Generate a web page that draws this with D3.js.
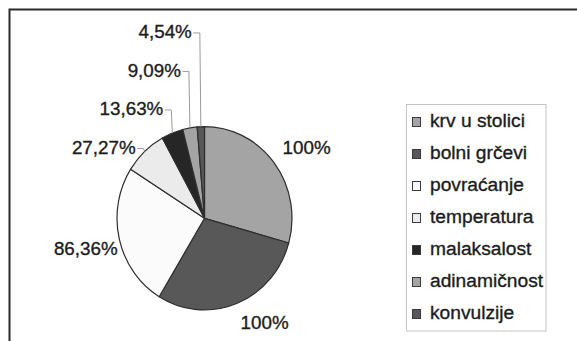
<!DOCTYPE html>
<html>
<head>
<meta charset="utf-8">
<script src="https://cdn.jsdelivr.net/npm/d3@7"></script>
<style>
  html, body { margin: 0; padding: 0; background: #fff; }
  svg { display: block; }
  text { font-family: "Liberation Sans", Arial, sans-serif; fill: #1c1c1c; stroke: #1c1c1c; stroke-width: 0.35px; }
</style>
</head>
<body>
<svg id="chart" width="577" height="341"></svg>
<script>
// ---- data ----
const categories = ["krv u stolici", "bolni grčevi", "povraćanje", "temperatura", "malaksalost", "adinamičnost", "konvulzije"];
const values = [100, 100, 86.36, 27.27, 13.63, 9.09, 4.54];
const colors = ["#a4a4a4", "#585858", "#fbfbfb", "#ebebeb", "#262626", "#a4a4a4", "#585858"];

// ---- layout ----
const W = 577, H = 341;
const cx = 204.5, cy = 218.3, rx = 87.5, ry = 91.7;

const svg = d3.select("#chart");

// frame (top and left edges visible)
svg.append("path")
  .attr("d", `M9.5,${H} V9.5 H${W}`)
  .attr("fill", "none").attr("stroke", "#2b2b2b").attr("stroke-width", 2);

const locale = d3.formatLocale({decimal: ",", thousands: ".", grouping: [3], currency: ["", ""]});
const fmt2 = locale.format(".2f");
const fmtPct = v => (Number.isInteger(v) ? String(v) : fmt2(v)) + "%";

const arcs = d3.pie().sort(null).value(d => d)(values);
const arcGen = d3.arc().innerRadius(0).outerRadius(rx);

const g = svg.append("g")
  .attr("transform", `translate(${cx},${cy}) scale(1,${ry / rx})`);

g.selectAll("path.slice")
  .data(arcs)
  .join("path")
  .attr("class", "slice")
  .attr("d", arcGen)
  .attr("fill", (d, i) => colors[i])
  .attr("stroke", "#2e2e2e")
  .attr("stroke-width", 1.2)
  .attr("vector-effect", "non-scaling-stroke")
  .attr("stroke-linejoin", "round");

// point on the (slightly elliptical) pie outline at angle a, radius factor f
const pt = (a, f) => [cx + Math.sin(a) * rx * f, cy - Math.cos(a) * ry * f];
const mid = d => (d.startAngle + d.endAngle) / 2;

const fontSize = 18.8;
const boxH = 18;
const labelRadius = [1.12, 1.12, 1.02];

const labelsG = svg.append("g");
const leaders = svg.append("g");

// big slices: label box corner touches the outline offset
arcs.forEach((d, i) => {
  if (i >= 3) return;
  const a = mid(d);
  const [px, py] = pt(a, labelRadius[i]);
  const right = Math.sin(a) >= 0;
  const upper = Math.cos(a) >= 0;
  const yc = upper ? py - boxH / 2 : py + boxH / 2;
  labelsG.append("text")
    .attr("x", px)
    .attr("y", yc)
    .attr("dy", "0.35em")
    .attr("text-anchor", right ? "start" : "end")
    .style("font-size", fontSize + "px")
    .text(fmtPct(values[i]));
});

// small slices: labels stacked upward with leader lines
const small = arcs.slice(3);
const firstOuter = pt(mid(small[0]), 1);
const baseY = firstOuter[1] - 4.5;
const step = 38.5;
small.forEach((d, k) => {
  const i = k + 3;
  const [ox, oy] = pt(mid(d), 1);
  const ly = baseY - k * step;
  const lx = ox - 9;
  labelsG.append("text")
    .attr("x", lx)
    .attr("y", ly)
    .attr("dy", "0.35em")
    .attr("text-anchor", "end")
    .style("font-size", fontSize + "px")
    .text(fmtPct(values[i]));
  leaders.append("path")
    .attr("d", `M${lx + 1.5},${ly + 1.5} H${ox - 1} L${ox},${oy}`)
    .attr("fill", "none")
    .attr("stroke", "#9a9a9a")
    .attr("stroke-width", 1);
});

// legend
const legend = svg.append("g");
legend.append("rect")
  .attr("x", 406.5).attr("y", 104.5)
  .attr("width", 139.5).attr("height", 226.5)
  .attr("fill", "#fff")
  .attr("stroke", "#c4c4c4").attr("stroke-width", 1);

const rowY = d3.scalePoint().domain(categories).range([127, 319]);
const items = legend.selectAll("g.item").data(categories).join("g").attr("class", "item");
items.append("rect")
  .attr("x", 412.5)
  .attr("y", d => rowY(d) - 9.5)
  .attr("width", 8).attr("height", 9)
  .attr("fill", (d, i) => colors[i])
  .attr("stroke", "#3a3a3a").attr("stroke-width", 1);
items.append("text")
  .attr("x", 430)
  .attr("y", d => rowY(d))
  .style("font-size", "19.2px")
  .text(d => d);
</script>
</body>
</html>
